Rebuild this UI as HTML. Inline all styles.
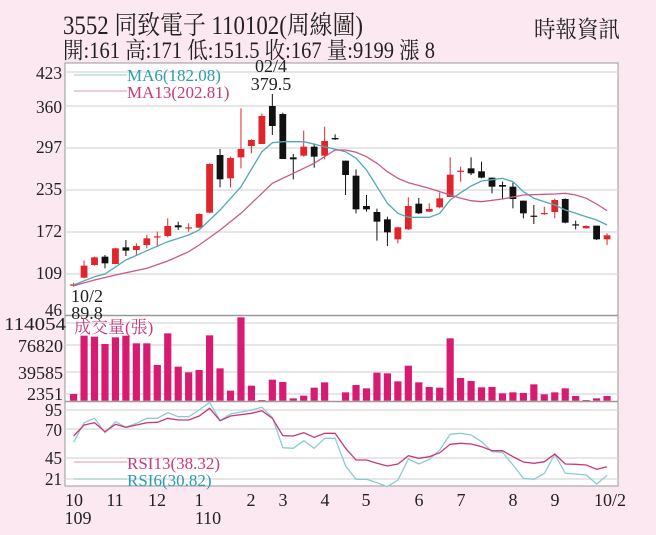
<!DOCTYPE html>
<html><head><meta charset="utf-8">
<style>
html,body{margin:0;padding:0;background:#fce8f0;}
svg{display:block;font-family:"Liberation Serif","Noto Serif CJK SC","Noto Sans CJK TC",serif;}
</style></head>
<body>
<svg id="s" width="656" height="535" viewBox="0 0 656 535" xmlns="http://www.w3.org/2000/svg">
<rect x="0" y="0" width="656" height="535" fill="#fce8f0"/>
<rect x="65" y="63" width="553" height="423" fill="#ffffff" stroke="#999" stroke-width="1"/>
<g id="grid" stroke="#ddd" stroke-width="1.5"></g>
<line x1="65" y1="315.5" x2="618" y2="315.5" stroke="#999" stroke-width="1.5"/>
<line x1="65" y1="401.5" x2="618" y2="401.5" stroke="#999" stroke-width="1.5"/>
<g id="g"></g>
<text x="63" y="34" font-size="26" fill="#222" textLength="300" lengthAdjust="spacingAndGlyphs">3552  同致電子 110102(周線圖)</text>
<text x="63" y="58" font-size="23" fill="#222" textLength="372" lengthAdjust="spacingAndGlyphs">開:161 高:171 低:151.5 收:167 量:9199 漲 8</text>
<text x="534" y="37" font-size="23" fill="#222" textLength="86" lengthAdjust="spacingAndGlyphs">時報資訊</text>
<g font-size="18" fill="#222" text-anchor="end">
<text x="62" y="79" textLength="26" lengthAdjust="spacingAndGlyphs">423</text><text x="62" y="113" textLength="26" lengthAdjust="spacingAndGlyphs">360</text><text x="62" y="153" textLength="26" lengthAdjust="spacingAndGlyphs">297</text>
<text x="62" y="195" textLength="26" lengthAdjust="spacingAndGlyphs">235</text><text x="62" y="237" textLength="26" lengthAdjust="spacingAndGlyphs">172</text><text x="62" y="279" textLength="26" lengthAdjust="spacingAndGlyphs">109</text>
<text x="62" y="316" textLength="17" lengthAdjust="spacingAndGlyphs">46</text>
<text x="66" y="330" textLength="62" lengthAdjust="spacingAndGlyphs">114054</text>
<text x="63" y="352" textLength="45" lengthAdjust="spacingAndGlyphs">76820</text><text x="63" y="379" textLength="45" lengthAdjust="spacingAndGlyphs">39585</text><text x="63" y="400" textLength="36" lengthAdjust="spacingAndGlyphs">2351</text>
<text x="62" y="416" textLength="17" lengthAdjust="spacingAndGlyphs">95</text><text x="62" y="436" textLength="17" lengthAdjust="spacingAndGlyphs">70</text><text x="62" y="464" textLength="17" lengthAdjust="spacingAndGlyphs">45</text><text x="62" y="485" textLength="17" lengthAdjust="spacingAndGlyphs">21</text>
</g>
<g font-size="18" fill="#222" text-anchor="middle">
<text x="74" y="506">10</text><text x="115" y="506">11</text><text x="157" y="506">12</text>
<text x="199" y="506">1</text><text x="251" y="506">2</text><text x="283" y="506">3</text>
<text x="325" y="506">4</text><text x="366" y="506">5</text><text x="419" y="506">6</text>
<text x="461" y="506">7</text><text x="513" y="506">8</text><text x="555" y="506">9</text>
<text x="610" y="506">10/2</text>
<text x="78" y="524">109</text><text x="208" y="524">110</text>
<text x="271" y="72">02/4</text><text x="271" y="90">379.5</text>
<text x="87" y="302">10/2</text><text x="87" y="319">89.8</text>
</g>
<line x1="74" y1="75" x2="127" y2="75" stroke="#9cc" stroke-width="1"/>
<line x1="74" y1="91" x2="127" y2="91" stroke="#d9a" stroke-width="1"/>
<text x="127" y="81" font-size="17" fill="#2a9bb0">MA6(182.08)</text>
<text x="127" y="98" font-size="17" fill="#c8387a">MA13(202.81)</text>
<text x="74" y="333" font-size="17" fill="#c8387a">成交量(張)</text>
<line x1="74" y1="462" x2="127" y2="462" stroke="#d9a" stroke-width="1"/>
<line x1="74" y1="479" x2="127" y2="479" stroke="#9cc" stroke-width="1"/>
<text x="127" y="469" font-size="17" fill="#c8387a">RSI13(38.32)</text>
<text x="127" y="486" font-size="17" fill="#2a9bb0">RSI6(30.82)</text>
</svg>
<script>
var NS="http://www.w3.org/2000/svg",g=document.getElementById('g'),grid=document.getElementById('grid');
function el(t,a,p){var e=document.createElementNS(NS,t);for(var k in a)e.setAttribute(k,a[k]);(p||g).appendChild(e);return e;}
[72,106,148,190,232,274].forEach(function(y){el('line',{x1:65,y1:y,x2:618,y2:y},grid);});
[323,345,372,394].forEach(function(y){el('line',{x1:65,y1:y,x2:618,y2:y},grid);});
[410,429,458,479].forEach(function(y){el('line',{x1:65,y1:y,x2:618,y2:y},grid);});
function X(i){return 73.6+i*10.46;}
function zx(x){return x/2.39;}
var C=[['r',853,857,848,860],['r',797,833,782,835],['r',772,795,770,797],['k',770,790,765,805],['r',745,792,743,793],['k',742,752,720,768],['r',738,750,730,765],['r',715,735,705,745],['r',709,711,695,740],['r',678,708,655,712],['k',676,682,665,690],['r',682,684,670,695],['r',642,683,640,685],['r',492,638,490,640],['k',465,538,447,562],['r',474,535,470,562],['r',447,472,325,505],['r',420,438,418,460],['r',348,432,340,432],['k',318,378,282,405],['k',342,477,338,477],['k',472,478,462,538],['r',440,467,392,470],['k',440,470,430,503],['r',423,467,380,478],['k',414,418,403,420],['k',482,525,482,585],['k',527,628,508,640],['k',618,628,585,635],['k',636,665,626,722],['k',658,697,650,738],['r',682,718,680,730],['r',618,688,592,690],['k',611,640,594,642],['r',627,635,610,636],['r',595,622,578,625],['r',524,591,472,591],['r',512,514,500,545],['k',505,520,472,525],['k',514,533,485,535],['k',533,560,533,580],['k',555,560,545,598],['k',560,597,548,625],['k',602,640,602,655],['k',647,649,615,672],['r',639,641,620,645],['r',600,636,596,655],['k',597,668,595,670],['k',673,676,662,688],['r',678,685,676,686],['k',677,718,677,720],['r',706,718,700,735]];
C.forEach(function(c,i){var x=X(i),col=c[0]=='r'?'#e0262a':'#111';
 el('line',{x1:x,y1:c[3]/3,x2:x,y2:c[4]/3,stroke:col,'stroke-width':1});
 var h=Math.max((c[2]-c[1])/3,1.2);el('rect',{x:x-3.4,y:c[1]/3,width:6.8,height:h,fill:col});});
function line(pts,col,sy,oy){var d=pts.map(function(p,i){return (i?'L':'M')+zx(p[0]).toFixed(1)+','+(p[1]/3+oy).toFixed(1);}).join('');el('path',{d:d,fill:'none',stroke:col,'stroke-width':1.3});}
line([[176,855],[226,830],[251,822],[301,780],[351,752],[401,725],[451,705],[476,690],[526,630],[576,560],[626,455],[651,428],[676,425],[726,425],[776,440],[826,455],[851,475],[876,510],[901,560],[926,610],[951,640],[976,652],[1026,652],[1051,640],[1076,600],[1101,578],[1126,558],[1151,543],[1201,535],[1226,545],[1251,575],[1276,595],[1301,605],[1326,615],[1351,630],[1376,640],[1401,650],[1426,660],[1451,675]],'#4fa9b8',0,0);
line([[176,857],[226,840],[276,825],[351,805],[401,783],[451,755],[476,735],[526,690],[576,640],[626,580],[651,550],[701,520],[751,490],[801,450],[826,450],[851,457],[876,470],[901,490],[926,515],[951,535],[976,548],[1026,565],[1076,585],[1101,595],[1126,602],[1151,605],[1201,597],[1251,585],[1301,583],[1326,582],[1351,580],[1376,585],[1401,595],[1426,612],[1451,632]],'#c85a8a',0,0);
var V=[252,77,80,102,82,77,100,100,165,70,170,187,180,76,175,242,22,227,270,209,216,265,257,233,217,272,247,225,235,188,190,214,167,217,231,233,85,204,213,232,231,250,247,249,223,253,247,235,258,270,265,258];
V.forEach(function(v,i){if(v<271)el('rect',{x:X(i)-3.6,y:310+v/3,width:7.2,height:(272-v)/3,fill:'#d81b72'});});
var R13=[[176,378],[201,345],[226,338],[251,365],[276,343],[301,352],[326,345],[351,338],[376,337],[401,325],[426,330],[451,330],[476,318],[501,295],[526,332],[551,318],[601,310],[626,302],[651,325],[676,377],[701,378],[726,368],[751,382],[776,370],[801,370],[826,415],[851,450],[876,450],[901,460],[926,468],[951,462],[976,437],[1001,445],[1026,440],[1051,428],[1076,403],[1101,400],[1126,402],[1151,410],[1176,422],[1201,422],[1226,440],[1251,456],[1276,460],[1301,455],[1326,432],[1351,462],[1376,463],[1401,465],[1426,478],[1451,470]];
var R6=[[176,397],[201,338],[226,325],[251,368],[276,335],[301,352],[326,340],[351,325],[376,325],[401,308],[426,320],[451,320],[476,300],[501,277],[526,332],[551,312],[601,300],[626,292],[651,322],[676,413],[701,415],[726,392],[751,415],[776,385],[801,385],[826,468],[851,508],[876,508],[901,518],[926,530],[951,510],[976,447],[1001,462],[1026,448],[1051,420],[1076,373],[1101,370],[1126,375],[1151,395],[1176,425],[1201,427],[1226,465],[1251,505],[1276,508],[1301,490],[1326,433],[1351,490],[1376,492],[1401,495],[1426,522],[1451,496]];
line(R6,'#8ccbd3',0,310);line(R13,'#c8387a',0,310);
</script>
</body></html>
